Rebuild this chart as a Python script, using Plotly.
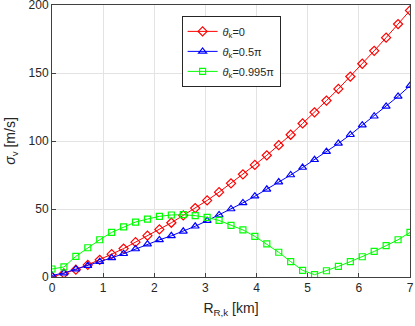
import numpy as np
import plotly.graph_objects as go

# range in km, 31 samples from 0 to 7
r_km = np.linspace(0, 7, 31)

sigma_0 = [0, 2.6, 5.4, 8.9, 12.6, 16.8, 20.9, 25.6, 30.4, 35.0, 39.9,
           45.3, 50.7, 56.3, 62.4, 68.9, 75.5, 82.4, 89.5, 96.9, 104.6,
           112.9, 121.1, 129.7, 138.3, 147.4, 156.8, 166.3, 176.0, 186.0, 196.0]
sigma_05 = [1.2, 2.9, 5.8, 8.4, 11.3, 14.1, 17.1, 20.6, 24.1, 27.3, 30.3,
            33.6, 37.3, 41.4, 45.6, 50.0, 54.5, 59.4, 64.5, 69.8, 75.0,
            80.5, 86.2, 92.2, 98.2, 104.6, 111.6, 118.2, 125.4, 132.8, 140.7]
sigma_0995 = [5.9, 7.4, 15.2, 21.5, 27.4, 32.8, 36.8, 40.4, 42.6, 44.6, 45.6,
              45.8, 45.1, 43.8, 41.6, 38.0, 34.6, 29.9, 24.3, 18.2, 11.3,
              4.9, 1.7, 4.6, 7.8, 11.3, 14.9, 18.8, 23.1, 27.4, 32.8]

labels = ["<i>θ</i><sub>k</sub>=0", "<i>θ</i><sub>k</sub>=0.5π",
          "<i>θ</i><sub>k</sub>=0.995π"]

series = [
    (sigma_0, "#ff0000", "diamond-open", 7),
    (sigma_05, "#0000ff", "triangle-up-open", 7),
    (sigma_0995, "#00ff00", "square-open", 6),
]

fig = go.Figure()
for i, ((vals, col, sym, sz), name) in enumerate(zip(series, labels)):
    fig.add_trace(go.Scatter(
        x=r_km, y=vals, name=name, mode="lines+markers", legendgroup=str(i),
        line=dict(color=col, width=1),
        marker=dict(symbol=sym, size=sz, color=col, line=dict(width=1.2, color=col)),
    ))

axis_style = dict(
    showline=True, mirror=True, linecolor="#404040", linewidth=1,
    ticks="inside", ticklen=4, tickcolor="#404040",
    showgrid=True, gridcolor="#e3e3e3", gridwidth=1, zeroline=False,
    tickfont=dict(size=12, color="#262626"), automargin=False,
    ticklabeloverflow="allow",
)

fig.update_layout(
    width=415, height=326,
    margin=dict(l=52, r=5, t=5, b=49),
    paper_bgcolor="white", plot_bgcolor="white",
    font=dict(family="Liberation Sans, Arial", size=12, color="#262626"),
    showlegend=True,
    legend=dict(
        x=0.362, y=0.96, xanchor="left", yanchor="top",
        bgcolor="white", bordercolor="#262626", borderwidth=1,
        font=dict(size=11, color="#262626"), itemwidth=30,
        traceorder="grouped", tracegroupgap=1,
    ),
)
fig.update_xaxes(range=[0, 7], dtick=1,
                 title=dict(text="R<sub>R,k</sub> [km]", standoff=8,
                            font=dict(size=14)), **axis_style)
fig.update_yaxes(range=[0, 200], dtick=50,
                 title=dict(text="<i>σ</i><sub>v</sub> [m/s]", standoff=9,
                            font=dict(size=14)), **axis_style)

# page has a default body margin that shifts the plot; drop it
fig.write_html("out.html", config={"displayModeBar": False},
               post_script="document.body.style.margin='0';")
